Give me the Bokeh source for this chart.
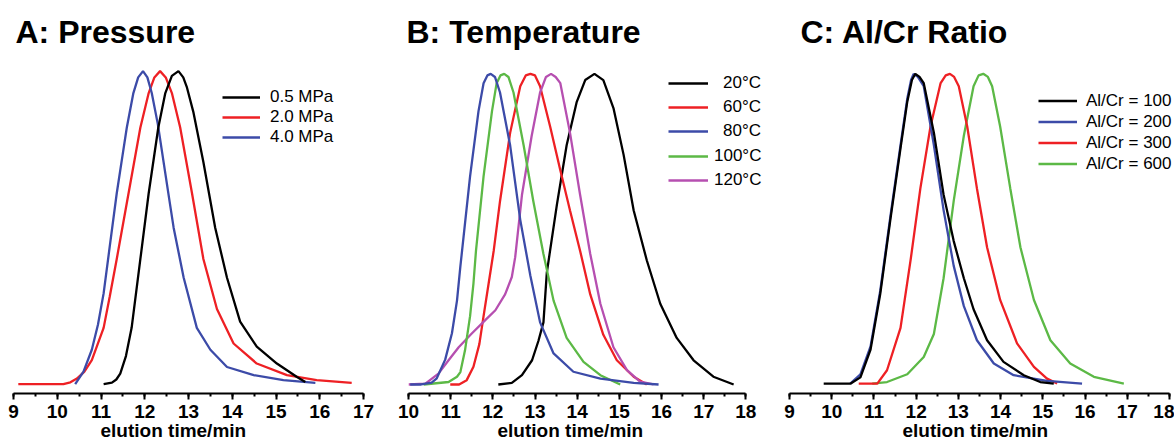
from bokeh.plotting import figure
from bokeh.layouts import row
from bokeh.models import Range1d, SingleIntervalTicker, Legend, LegendItem, Title
from bokeh.embed import file_html
from bokeh.resources import INLINE

FONT = "Liberation Sans"
BLACK = "#000000"
RED = "#ee2024"
BLUE = "#3c4ba8"
GREEN = "#5cb946"
MAGENTA = "#b64fb0"

x_label = "elution time/min"

# ---------------- Panel A: Pressure ----------------
a_title = "A: Pressure"
a_labels = ["0.5 MPa", "2.0 MPa", "4.0 MPa"]
a_t_05 = [11.06, 11.25, 11.35, 11.44, 11.57, 11.70, 11.90, 12.09, 12.31, 12.47, 12.62, 12.77,
          12.88, 12.96, 13.11, 13.34, 13.61, 13.88, 14.18, 14.56, 15.02, 15.48, 15.67]
a_y_05 = [0.0, 0.005, 0.015, 0.034, 0.09, 0.18, 0.40, 0.61, 0.82, 0.93, 0.985, 1.0,
          0.98, 0.95, 0.87, 0.71, 0.50, 0.34, 0.20, 0.12, 0.066, 0.023, 0.007]
a_t_20 = [9.11, 10.14, 10.30, 10.45, 10.62, 10.79, 11.06, 11.20, 11.36, 11.63, 11.90, 12.09,
          12.22, 12.35, 12.48, 12.62, 12.81, 13.08, 13.34, 13.65, 14.03, 14.56, 15.25, 15.93, 16.73]
a_y_20 = [0.0, 0.0, 0.006, 0.018, 0.04, 0.077, 0.18, 0.28, 0.40, 0.61, 0.82, 0.93,
          0.98, 1.0, 0.98, 0.93, 0.82, 0.61, 0.40, 0.24, 0.13, 0.066, 0.029, 0.013, 0.004]
a_t_40 = [10.41, 10.60, 10.79, 10.93, 11.06, 11.20, 11.36, 11.48, 11.59, 11.74, 11.85, 11.96,
          12.06, 12.16, 12.30, 12.43, 12.55, 12.66, 12.89, 13.19, 13.50, 13.88, 14.49, 15.17, 15.90]
a_y_40 = [0.0, 0.04, 0.11, 0.19, 0.29, 0.44, 0.61, 0.72, 0.82, 0.93, 0.98, 1.0,
          0.98, 0.93, 0.83, 0.71, 0.60, 0.50, 0.34, 0.18, 0.11, 0.055, 0.029, 0.013, 0.004]

# ---------------- Panel B: Temperature ----------------
b_title = "B: Temperature"
b_labels = ["20°C", "60°C", "80°C", "100°C", "120°C"]
b_t_20 = [12.13, 12.45, 12.69, 12.93, 13.08, 13.20, 13.28, 13.52, 13.75, 13.99, 14.19, 14.41,
          14.62, 14.86, 15.10, 15.34, 15.65, 15.97, 16.36, 16.76, 17.23, 17.71]
b_y_20 = [0.0, 0.005, 0.03, 0.078, 0.14, 0.20, 0.36, 0.58, 0.77, 0.91, 0.98, 1.0,
          0.98, 0.89, 0.74, 0.56, 0.40, 0.26, 0.15, 0.078, 0.025, 0.0]
b_t_60 = [10.99, 11.20, 11.38, 11.54, 11.68, 11.78, 11.90, 12.02, 12.17, 12.41, 12.65, 12.78,
          12.89, 13.00, 13.12, 13.36, 13.60, 13.83, 14.07, 14.31, 14.62, 14.94, 15.34, 15.65]
b_y_60 = [0.0, 0.0, 0.014, 0.057, 0.13, 0.22, 0.325, 0.43, 0.59, 0.81, 0.96, 0.995,
          1.0, 0.995, 0.96, 0.83, 0.69, 0.56, 0.43, 0.29, 0.16, 0.078, 0.025, 0.0]
b_t_80 = [10.04, 10.30, 10.55, 10.67, 10.87, 11.03, 11.15, 11.23, 11.46, 11.66, 11.78, 11.87,
          11.95, 12.05, 12.17, 12.41, 12.65, 12.89, 13.12, 13.44, 13.91, 14.55, 15.34, 15.93]
b_y_80 = [0.0, 0.0, 0.006, 0.02, 0.08, 0.165, 0.27, 0.38, 0.67, 0.88, 0.97, 0.995,
          1.0, 0.99, 0.94, 0.77, 0.53, 0.35, 0.20, 0.10, 0.041, 0.019, 0.005, 0.0]
b_t_100 = [10.36, 10.95, 11.15, 11.23, 11.34, 11.46, 11.54, 11.60, 11.78, 11.98, 12.09, 12.18,
           12.27, 12.37, 12.49, 12.73, 12.96, 13.20, 13.44, 13.75, 14.15, 14.55, 15.02]
b_y_100 = [0.0, 0.008, 0.025, 0.04, 0.11, 0.22, 0.325, 0.43, 0.67, 0.88, 0.97, 0.995,
           1.0, 0.99, 0.94, 0.77, 0.59, 0.42, 0.27, 0.15, 0.073, 0.03, 0.0]
b_t_120 = [10.00, 10.40, 10.71, 10.95, 11.19, 11.50, 11.82, 12.06, 12.29, 12.45, 12.53, 12.69,
           12.92, 13.12, 13.26, 13.38, 13.49, 13.60, 13.83, 14.07, 14.31, 14.55, 14.86, 15.18,
           15.49, 15.81]
b_y_120 = [0.0, 0.003, 0.035, 0.078, 0.12, 0.164, 0.207, 0.239, 0.29, 0.346, 0.41, 0.61,
           0.80, 0.94, 0.99, 1.0, 0.99, 0.97, 0.81, 0.61, 0.42, 0.26, 0.12, 0.046,
           0.009, 0.0]

# ---------------- Panel C: Al/Cr Ratio ----------------
c_title = "C: Al/Cr Ratio"
c_labels = ["Al/Cr = 100", "Al/Cr = 200", "Al/Cr = 300", "Al/Cr = 600"]
c_t_100 = [9.81, 10.45, 10.68, 10.92, 11.15, 11.39, 11.63, 11.79, 11.90, 11.98, 12.08, 12.18,
           12.42, 12.65, 12.89, 13.13, 13.36, 13.68, 14.07, 14.55, 14.94, 15.26]
c_y_100 = [0.0, 0.0, 0.02, 0.11, 0.29, 0.53, 0.76, 0.91, 0.98, 1.0, 0.99, 0.97,
           0.81, 0.61, 0.46, 0.34, 0.24, 0.14, 0.07, 0.027, 0.005, 0.0]
c_t_200 = [10.44, 10.68, 10.92, 11.15, 11.39, 11.63, 11.79, 11.88, 11.94, 12.04, 12.18, 12.42,
           12.65, 12.89, 13.13, 13.44, 13.84, 14.31, 15.10, 15.93]
c_y_200 = [0.0, 0.03, 0.12, 0.30, 0.54, 0.77, 0.92, 0.98, 1.0, 0.99, 0.96, 0.77,
           0.56, 0.38, 0.25, 0.14, 0.065, 0.027, 0.009, 0.0]
c_t_300 = [10.64, 11.08, 11.31, 11.63, 11.87, 12.10, 12.34, 12.58, 12.70, 12.80, 12.90, 13.01,
           13.21, 13.44, 13.68, 13.99, 14.39, 14.79, 15.10, 15.34]
c_y_300 = [0.0, 0.0, 0.043, 0.18, 0.40, 0.63, 0.83, 0.97, 0.995, 1.0, 0.99, 0.96,
           0.83, 0.63, 0.44, 0.27, 0.13, 0.054, 0.016, 0.0]
c_t_600 = [10.96, 11.31, 11.79, 12.18, 12.42, 12.65, 12.89, 13.13, 13.36, 13.48, 13.59, 13.70,
           13.80, 13.99, 14.23, 14.47, 14.79, 15.18, 15.65, 16.21, 16.92]
c_y_600 = [0.0, 0.005, 0.03, 0.086, 0.16, 0.34, 0.59, 0.80, 0.96, 0.995, 1.0, 0.99,
           0.96, 0.83, 0.63, 0.44, 0.27, 0.14, 0.065, 0.022, 0.0]


def make_panel(title, xr, bounds, yr, width, left, right, title_offset, xlab_offset):
    p = figure(width=width, height=443, x_range=Range1d(*xr), y_range=Range1d(*yr),
               output_backend="svg", toolbar_location=None, y_axis_location=None,
               min_border_left=left, min_border_right=right,
               min_border_top=60, min_border_bottom=50)
    p.outline_line_color = None
    p.grid.visible = False
    p.background_fill_color = "white"
    p.border_fill_color = "white"
    p.title.text = title
    p.title.text_font = FONT
    p.title.text_font_size = "32px"
    p.title.text_font_style = "bold"
    p.title.text_color = "black"
    p.title.align = "left"
    p.title.offset = title_offset
    p.title.standoff = 22
    ax = p.xaxis[0]
    ax.bounds = bounds
    ax.ticker = SingleIntervalTicker(interval=1, num_minor_ticks=2)
    ax.major_label_text_font = FONT
    ax.major_label_text_font_size = "19px"
    ax.major_label_text_font_style = "bold"
    ax.major_label_text_color = "black"
    ax.major_label_standoff = 5
    ax.axis_line_width = 2
    ax.axis_line_color = "black"
    ax.major_tick_line_width = 2
    ax.minor_tick_line_width = 2
    ax.major_tick_line_color = "black"
    ax.minor_tick_line_color = "black"
    ax.major_tick_in = 0
    ax.major_tick_out = 6
    ax.minor_tick_in = 0
    ax.minor_tick_out = 3
    xl = Title(text=x_label, align="left", offset=xlab_offset, vertical_align="bottom",
               standoff=-6, text_font=FONT, text_font_size="19px",
               text_font_style="bold", text_color="black")
    p.add_layout(xl, "below")
    return p


def add_legend(p, renderers, labels, loc, glyph_w, standoff, row_h):
    items = [LegendItem(label=l, renderers=[r]) for l, r in zip(labels, renderers)]
    lg = Legend(items=items, location=loc, orientation="vertical",
                glyph_width=glyph_w, glyph_height=row_h, label_height=row_h,
                label_standoff=standoff, spacing=0, padding=0, margin=0,
                border_line_color=None, background_fill_alpha=0,
                label_text_font=FONT, label_text_font_size="17px",
                label_text_color="black")
    p.add_layout(lg)


LW = 2.3

# Panel A  (frame 13..363 px)
pa = make_panel(a_title, (9, 17), (9, 17), (-0.0297, 1.034), 388, 13, 25, 2, 87)
ra2 = pa.line(a_t_20, a_y_20, line_color=RED, line_width=LW)
ra4 = pa.line(a_t_40, a_y_40, line_color=BLUE, line_width=LW)
ra0 = pa.line(a_t_05, a_y_05, line_color=BLACK, line_width=LW)
add_legend(pa, [ra0, ra2, ra4], a_labels, (209, 246), 38, 10, 20)

# Panel B  (frame 408..770 px, axis to 18); labels right-aligned as in the figure
pb = make_panel(b_title, (10, 18.584), (10, 18), (-0.029, 1.043), 382, 20, 0, -2, 89)
rb20 = pb.line(b_t_20, b_y_20, line_color=BLACK, line_width=LW)
rb60 = pb.line(b_t_60, b_y_60, line_color=RED, line_width=LW)
rb120 = pb.line(b_t_120, b_y_120, line_color=MAGENTA, line_width=LW)
rb100 = pb.line(b_t_100, b_y_100, line_color=GREEN, line_width=LW)
rb80 = pb.line(b_t_80, b_y_80, line_color=BLUE, line_width=LW)
add_legend(pb, [rb20, rb60, rb80], b_labels[:3], (260, 250), 40, 15, 24)
add_legend(pb, [rb100, rb120], b_labels[3:], (260, 201), 40, 6, 24)

# Panel C  (frame 789..1174 px, axis to 18)
pc = make_panel(c_title, (9, 18.12), (9, 18), (-0.032, 1.043), 404, 19, 0, 11, 113)
rc600 = pc.line(c_t_600, c_y_600, line_color=GREEN, line_width=LW)
rc300 = pc.line(c_t_300, c_y_300, line_color=RED, line_width=LW)
rc200 = pc.line(c_t_200, c_y_200, line_color=BLUE, line_width=LW)
rc100 = pc.line(c_t_100, c_y_100, line_color=BLACK, line_width=LW)
add_legend(pc, [rc100, rc200, rc300, rc600], c_labels, (249, 219), 39, 9, 21)

layout = row(pa, pb, pc)
open("out.html", "w").write(file_html(layout, INLINE))
